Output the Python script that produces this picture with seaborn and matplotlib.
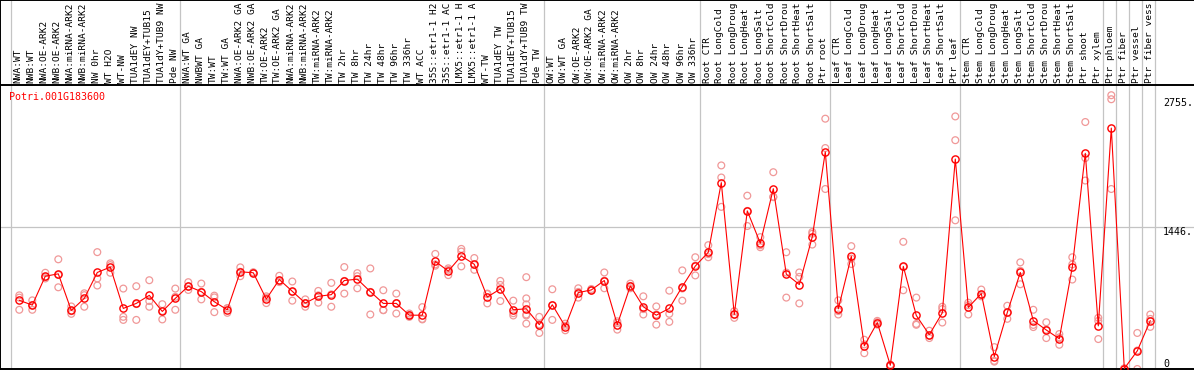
import numpy as np
import pandas as pd
import matplotlib
matplotlib.use("Agg")
import matplotlib.pyplot as plt
import matplotlib.transforms as mtransforms
import seaborn as sns

GENE = "Potri.001G183600"

SAMPLES = [
    "NWA:WT", "NWB:WT", "NWA:OE-ARK2", "NWB:OE-ARK2", "NWA:miRNA-ARK2",
    "NWB:miRNA-ARK2", "NW 0hr", "WT H2O", "WT-NW", "TUA1dEY NW",
    "TUA1dEY+TUB15", "TUA1dY+TUB9 NW", "Pde NW",
    "NWA:WT GA", "NWBWT GA", "TW:WT", "TW:WT GA", "NWA:OE-ARK2 GA",
    "NWB:OE-ARK2 GA", "TW:OE-ARK2", "TW:OE-ARK2 GA", "NWA:miRNA-ARK2",
    "NWB:miRNA-ARK2", "TW:miRNA-ARK2", "TW:miRNA-ARK2", "TW 2hr", "TW 8hr",
    "TW 24hr", "TW 48hr", "TW 96hr", "TW 336hr", "WT ACC", "35S::etr1-1 H2",
    "35S::etr1-1 AC", "LMX5::etr1-1 H", "LMX5::etr1-1 A", "WT-TW",
    "TUA1dEY TW", "TUA1dEY+TUB15", "TUA1dY+TUB9 TW", "Pde TW",
    "OW:WT", "OW:WT GA", "OW:OE-ARK2", "OW:OE-ARK2 GA", "OW:miRNA-ARK2",
    "OW:miRNA-ARK2", "OW 2hr", "OW 8hr", "OW 24hr", "OW 48hr", "OW 96hr",
    "OW 336hr",
    "Root CTR", "Root LongCold", "Root LongDroug", "Root LongHeat",
    "Root LongSalt", "Root ShortCold", "Root ShortDrou", "Root ShortHeat",
    "Root ShortSalt", "Ptr root",
    "Leaf CTR", "Leaf LongCold", "Leaf LongDroug", "Leaf LongHeat",
    "Leaf LongSalt", "Leaf ShortCold", "Leaf ShortDrou", "Leaf ShortHeat",
    "Leaf ShortSalt", "Ptr leaf",
    "Stem CTR", "Stem LongCold", "Stem LongDroug", "Stem LongHeat",
    "Stem LongSalt", "Stem ShortCold", "Stem ShortDrou", "Stem ShortHeat",
    "Stem ShortSalt", "Ptr shoot", "Ptr xylem",
    "Ptr phloem", "Ptr fiber", "Ptr vessel", "Ptr fiber vess",
]

# first sample of each group (separator lines drawn before them)
GROUP_STARTS = [0, 13, 41, 53, 63, 73, 84, 85, 86, 87, 88]

MEANS = [
    699, 651, 945, 969, 596, 719, 983, 1038, 617, 668, 750, 586, 719,
    843, 788, 685, 603, 990, 980, 712, 911, 791, 671, 740, 757, 901, 915,
    788, 668, 668, 548, 548, 1096, 997, 1151, 1066, 733, 815, 603, 613, 452,
    654, 432, 778, 805, 901, 452, 846, 634, 548, 617, 840, 1048,
    1189, 1898, 555, 1610, 1281, 1836, 966, 860, 1346, 2210,
    613, 1148, 236, 473, 38, 1045, 545, 349, 572, 2138,
    627, 768, 127, 576, 983, 493, 397, 308, 1038, 2196, 439,
    2453, 5, 185, 493,
]

REPLICATES = [
    [750, 603, 727], [699, 651, 603], [980, 922, 935], [1117, 958, 832],
    [637, 589, 562], [771, 634, 752], [1190, 922, 850], [1076, 1058, 980],
    [819, 531, 500], [843, 500, 661], [904, 692, 634], [660, 590, 505],
    [819, 603, 735],
    [884, 805, 840], [870, 709, 785], [747, 579, 729], [620, 572, 617],
    [1035, 945, 990], [985, 975, 980], [740, 671, 725], [949, 900, 885],
    [891, 696, 786], [709, 634, 670], [795, 675, 750], [877, 634, 760],
    [1038, 768, 897], [976, 822, 945], [1024, 555, 785], [802, 599, 600],
    [768, 565, 671], [565, 548, 531], [630, 510, 505], [1172, 1052, 1065],
    [1010, 956, 1025], [1223, 1196, 1045], [1130, 1010, 1060],
    [768, 668, 763], [897, 692, 856], [696, 545, 568],
    [935, 719, 658, 555, 545, 462], [531, 367, 455],
    [812, 500, 650], [462, 394, 440], [822, 727, 785], [815, 800, 800],
    [983, 822, 900], [486, 401, 470], [870, 822, 846], [740, 555, 610],
    [637, 452, 555], [798, 562, 480], [1004, 696, 820], [1138, 953, 1053],
    [1261, 1138, 1170], [2073, 1950, 1651], [589, 521, 555],
    [1765, 1456, 1610], [1343, 1240, 1260], [2004, 1754, 1750],
    [1189, 727, 982], [983, 938, 668], [1377, 1267, 1395],
    [2549, 1833, 2250],
    [699, 555, 590], [1251, 1069, 1124], [298, 161, 250], [490, 452, 477],
    [38, 30, 45], [1295, 802, 1040], [727, 459, 450], [390, 315, 342],
    [634, 473, 610], [2572, 2330, 1514],
    [675, 555, 650], [809, 740, 755], [223, 75, 83], [644, 511, 572],
    [1086, 863, 1000], [603, 449, 427], [476, 315, 400], [356, 247, 322],
    [1138, 911, 1065], [2515, 2148, 1919], [521, 305, 490],
    [2788, 2747, 1833], [5, 5, 5], [367, 0, 188], [555, 429, 510],
]

Y_MAX = 2892
Y_LABELS = [2755, 1446, 0]
GRID_VALUE = 1446

RED = "#ff0000"
REP_COLOR = "#f09898"
SEP_COLOR = "#c4c4c4"

sns.set_style("white")
plt.rcParams["font.family"] = ["DejaVu Sans Mono"]

idx = np.arange(len(SAMPLES))
reps = pd.DataFrame(
    [(i, v) for i, vals in enumerate(REPLICATES) for v in vals],
    columns=["sample", "value"],
)
means = pd.DataFrame({"sample": idx, "value": MEANS})

W, H = 1194, 370
fig = plt.figure(figsize=(W / 100, H / 100), dpi=100)
strip_h = 85
ax_lab = fig.add_axes([0, (H - strip_h) / H, 1, strip_h / H])
ax = fig.add_axes([0, 1 / H, 1, (H - strip_h - 1) / H])

xlim = (-19.3 / 13, (W - 19.3) / 13)
for a in (ax, ax_lab):
    a.set_xlim(*xlim)
    a.set_xticks([])
    a.set_yticks([])
    for s in a.spines.values():
        s.set_color("black")
        s.set_linewidth(1.4)
    a.spines["right"].set_visible(False)
    for b in GROUP_STARTS:
        a.axvline(b - 0.62, color=SEP_COLOR, lw=0.9, zorder=0)

ax_lab.set_ylim(0, 1)
ax_lab.spines["bottom"].set_visible(False)
for i, name in enumerate(SAMPLES):
    ax_lab.text(i - 0.1, 2 / strip_h, name, rotation=90, ha="center", va="bottom",
                fontsize=6.8, color="black", clip_on=False)

ax.set_ylim(0, Y_MAX)
ax.axhline(GRID_VALUE, color=SEP_COLOR, lw=0.9, zorder=0)

sns.scatterplot(data=reps, x="sample", y="value", ax=ax, marker="o", s=24,
                facecolor="none", edgecolor=REP_COLOR, linewidth=0.9,
                legend=False, zorder=2, clip_on=True)
sns.lineplot(data=means, x="sample", y="value", ax=ax, color=RED, lw=0.8,
             estimator=None, sort=False, marker="o", markersize=5.2,
             markerfacecolor="none", markeredgecolor=RED, markeredgewidth=1.0,
             legend=False, zorder=3)
ax.set_xlabel("")
ax.set_ylabel("")
ax.set_xlim(*xlim)

ax.text(9.3 / W, 1 - (97.3 - strip_h) / (H - strip_h - 1), GENE,
        transform=ax.transAxes, color=RED, fontsize=7.2, ha="left", va="center")

trans = mtransforms.blended_transform_factory(ax.transAxes, ax.transData)
for v in Y_LABELS:
    txt = f"{v}." if v else "0"
    ax.text(1163 / W, v, txt, transform=trans, fontsize=7.2, ha="left",
            va="bottom" if v == 0 else "top", color="black")

fig.savefig("out.png", dpi=100)
